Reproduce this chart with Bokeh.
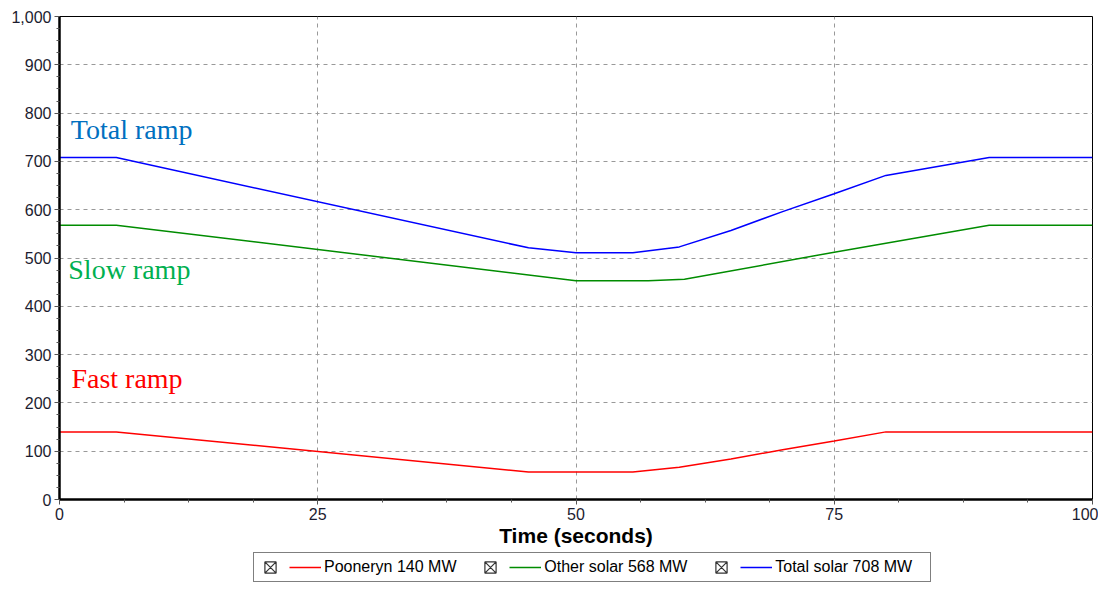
from bokeh.plotting import figure
from bokeh.layouts import column
from bokeh.models import (Range1d, SingleIntervalTicker, NumeralTickFormatter, Legend,
                          LegendItem, Label, ColumnDataSource)
from bokeh.embed import file_html
from bokeh.resources import INLINE

# ---- data ----
pooneryn_t = [0, 5.5, 45.4, 55.5, 60, 65, 70, 75, 80, 100]
pooneryn_mw = [140, 140, 57, 57, 67, 84, 103, 121, 140, 140]

other_t = [0, 5.5, 50, 57, 60.5, 75, 90, 100]
other_mw = [568, 568, 453, 453, 456, 512, 568, 568]

total_t = [0, 5.5, 45.4, 50, 55.5, 60, 65, 70, 75, 80, 90, 100]
total_mw = [708, 708, 521, 511, 511, 523, 557, 596, 633, 671, 708, 708]

series_labels = ["Pooneryn 140 MW", "Other solar 568 MW", "Total solar 708 MW"]
series_colors = ["#FF0000", "#008C00", "#0000FF"]

ramp_labels = ["Total ramp", "Slow ramp", "Fast ramp"]
ramp_x = [1.1, 0.85, 1.15]
ramp_y = [766, 476, 251]
ramp_colors = ["#0070C0", "#00B050", "#FF0000"]

x_title = "Time (seconds)"

p = figure(width=1098, height=551, output_backend="svg", toolbar_location=None,
           x_range=Range1d(0, 100), y_range=Range1d(0, 1000),
           min_border_left=59, min_border_right=6, min_border_top=16, min_border_bottom=52)

p.outline_line_color = "black"
p.outline_line_width = 1

# axes
p.xaxis.ticker = SingleIntervalTicker(interval=25, num_minor_ticks=4)
p.yaxis.ticker = SingleIntervalTicker(interval=100, num_minor_ticks=4)
p.yaxis.formatter = NumeralTickFormatter(format="0,0")
for ax in (p.xaxis, p.yaxis):
    ax.axis_line_width = 2.5
    ax.axis_line_color = "black"
    ax.major_tick_line_color = "#555555"
    ax.minor_tick_line_color = "#555555"
    ax.major_tick_out = 5
    ax.major_tick_in = 0
    ax.minor_tick_out = 3
    ax.minor_tick_in = 0
    ax.major_label_text_font = "Liberation Sans"
    ax.major_label_text_font_size = "16px"
    ax.major_label_text_color = "#1c1c30"
    ax.major_label_standoff = 3
p.xaxis.axis_label = x_title
p.xaxis.axis_label_text_font = "Liberation Sans"
p.xaxis.axis_label_text_font_size = "21px"
p.xaxis.axis_label_text_font_style = "bold"
p.xaxis.axis_label_text_color = "black"
p.xaxis.axis_label_standoff = 1

# grid
p.grid.grid_line_color = "#999999"
p.grid.grid_line_dash = "4 4"
p.grid.grid_line_width = 1

# lines
src_p = ColumnDataSource(dict(t=pooneryn_t, v=pooneryn_mw))
src_o = ColumnDataSource(dict(t=other_t, v=other_mw))
src_s = ColumnDataSource(dict(t=total_t, v=total_mw))
p.line("t", "v", source=src_p, color=series_colors[0], line_width=1.5)
p.line("t", "v", source=src_o, color=series_colors[1], line_width=1.5)
p.line("t", "v", source=src_s, color=series_colors[2], line_width=1.5)

# ramp labels
for txt, xx, yy, c in zip(ramp_labels, ramp_x, ramp_y, ramp_colors):
    p.add_layout(Label(x=xx, y=yy, text=txt, text_color=c, text_font="Liberation Serif",
                       text_font_size="28px", text_baseline="alphabetic"))

# ---- legend strip (separate small figure holding only the legend) ----
lg = figure(width=1098, height=32, output_backend="svg", toolbar_location=None,
            x_range=Range1d(0, 1), y_range=Range1d(0, 1),
            x_axis_location=None, y_axis_location=None,
            min_border_left=0, min_border_right=0, min_border_top=0, min_border_bottom=0)
lg.grid.visible = False
lg.outline_line_color = None

nan = float("nan")
items = []
for col, lab in zip(series_colors, series_labels):
    box = lg.scatter(x=[nan], y=[nan], marker="square_x", fill_color="#ffffff",
                     line_color="#333333", line_width=1.2)
    ln = lg.line(x=[nan, nan], y=[nan, nan], color=col, line_width=1.5)
    items.append(LegendItem(label=" ", renderers=[box]))
    items.append(LegendItem(label=lab + "\u00a0\u00a0\u00a0\u00a0", renderers=[ln]))

legend = Legend(items=items, orientation="horizontal", location=(194, 1),
                label_text_font="Liberation Sans", label_text_font_size="16px",
                label_text_color="black", glyph_width=32, glyph_height=28,
                label_standoff=3, spacing=0, padding=0, margin=0, label_width=0,
                border_line_color="black", border_line_width=1.5,
                label_height=18, background_fill_color="white")
lg.add_layout(legend)

open("out.html", "w").write(file_html(column(p, lg, spacing=0), INLINE))
